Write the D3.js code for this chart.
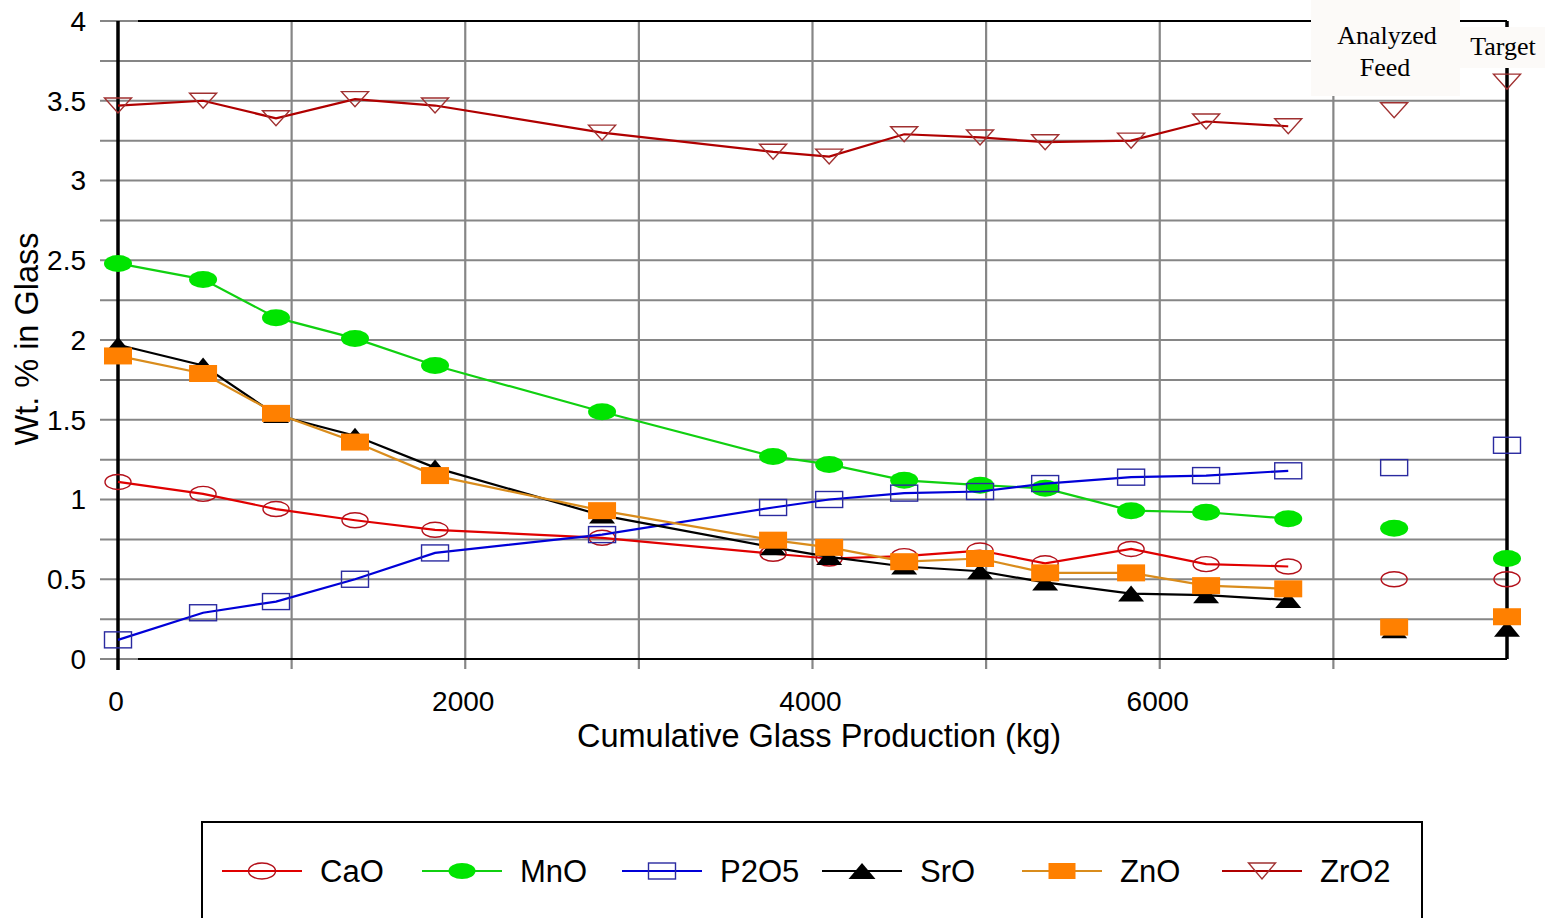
<!DOCTYPE html>
<html>
<head>
<meta charset="utf-8">
<script src="https://cdn.jsdelivr.net/npm/d3@7"></script>
<style>
  html, body { margin: 0; padding: 0; background: #ffffff; }
  svg { display: block; }
  text { font-family: "Liberation Sans", Arial, sans-serif; fill: #000; }
</style>
</head>
<body>
<svg id="chart" width="1545" height="918"></svg>
<script>
// Cumulative glass production (kg) at each glass sample
const production = [0, 490, 910, 1365, 1826, 2788, 3773, 4096, 4528, 4965, 5340, 5835, 6267, 6740];

// Oxide concentrations (wt. % in glass)
const CaO  = [1.11, 1.035, 0.94, 0.87, 0.81, 0.76, 0.66, 0.63, 0.645, 0.68, 0.60, 0.69, 0.595, 0.58];
const MnO  = [2.48, 2.38, 2.14, 2.01, 1.84, 1.55, 1.27, 1.22, 1.12, 1.09, 1.07, 0.93, 0.92, 0.88];
const P2O5 = [0.12, 0.29, 0.36, 0.50, 0.665, 0.78, 0.95, 1.00, 1.04, 1.05, 1.10, 1.14, 1.15, 1.18];
const SrO  = [1.97, 1.84, 1.53, 1.40, 1.20, 0.90, 0.70, 0.64, 0.58, 0.55, 0.48, 0.41, 0.40, 0.37];
const ZnO  = [1.90, 1.79, 1.54, 1.36, 1.15, 0.93, 0.745, 0.70, 0.61, 0.63, 0.54, 0.54, 0.46, 0.44];
const ZrO2 = [3.47, 3.50, 3.39, 3.51, 3.47, 3.30, 3.18, 3.15, 3.29, 3.27, 3.24, 3.25, 3.37, 3.34];

// Analyzed feed and target compositions, order: CaO, MnO, P2O5, SrO, ZnO, ZrO2
const analyzedFeed = [0.50, 0.82, 1.20, 0.18, 0.20, 3.44];
const targetComp   = [0.50, 0.63, 1.34, 0.19, 0.265, 3.62];
const analyzedX = 7350;
const targetX = 8000;

const seriesNames = ["CaO", "MnO", "P2O5", "SrO", "ZnO", "ZrO2"];
const seriesValues = [CaO, MnO, P2O5, SrO, ZnO, ZrO2];

const yTicks = [0, 0.5, 1, 1.5, 2, 2.5, 3, 3.5, 4];
const yGrid = d3.range(0, 4.001, 0.25);
const xTickLabels = [0, 2000, 4000, 6000];
const xGrid = [1000, 2000, 3000, 4000, 5000, 6000, 7000];

// Visual style per series
const styles = {
  CaO:  { line: "#e00000", shape: "ellipse",  fill: "none",    stroke: "#b3101a" },
  MnO:  { line: "#10d010", shape: "ellipse",  fill: "#00e400", stroke: "none" },
  P2O5: { line: "#0000d8", shape: "rect",     fill: "none",    stroke: "#2a2aa0" },
  SrO:  { line: "#000000", shape: "triUp",    fill: "#000000", stroke: "none" },
  ZnO:  { line: "#d98c1c", shape: "rect",     fill: "#ff8000", stroke: "none" },
  ZrO2: { line: "#b00000", shape: "triDown",  fill: "none",    stroke: "#a03030" }
};

const svg = d3.select("#chart");
const x = d3.scaleLinear().domain([0, 8000]).range([118, 1507]);
const y = d3.scaleLinear().domain([0, 4]).range([659, 21]);

// Grid lines (grey), extended slightly outside the plot as tick marks
const grid = svg.append("g");
grid.selectAll("line.h").data(yGrid).join("line")
  .attr("x1", 100).attr("x2", x(8000))
  .attr("y1", d => y(d)).attr("y2", d => y(d))
  .attr("stroke", "#868686").attr("stroke-width", 2);
grid.selectAll("line.v").data(xGrid).join("line")
  .attr("x1", d => x(d)).attr("x2", d => x(d))
  .attr("y1", y(4)).attr("y2", y(0) + 10)
  .attr("stroke", "#868686").attr("stroke-width", 2.2);

// Plot frame
const frame = svg.append("g").attr("stroke", "#000");
frame.append("line").attr("x1", 138).attr("x2", x(8000)).attr("y1", y(4)).attr("y2", y(4)).attr("stroke-width", 2.2);
frame.append("line").attr("x1", 138).attr("x2", x(8000)).attr("y1", y(0)).attr("y2", y(0)).attr("stroke-width", 2.2);
frame.append("line").attr("x1", x(8000)).attr("x2", x(8000)).attr("y1", y(4)).attr("y2", y(0)).attr("stroke-width", 3.5);
frame.append("line").attr("x1", x(0)).attr("x2", x(0)).attr("y1", y(4)).attr("y2", y(0) + 11).attr("stroke-width", 3.5);

// Label panels for the feed / target columns
svg.append("rect").attr("x", 1311).attr("y", 0).attr("width", 149).attr("height", 96).attr("fill", "#fcfaf8");
svg.append("rect").attr("x", 1460).attr("y", 27).attr("width", 85).attr("height", 41).attr("fill", "#fcfaf8");

const serif = "'Liberation Serif', 'Times New Roman', serif";
svg.append("text").attr("x", 1387).attr("y", 44).attr("text-anchor", "middle")
  .style("font-family", serif).style("font-size", "26px").text("Analyzed");
svg.append("text").attr("x", 1385).attr("y", 76).attr("text-anchor", "middle")
  .style("font-family", serif).style("font-size", "26px").text("Feed");
svg.append("text").attr("x", 1503).attr("y", 55).attr("text-anchor", "middle")
  .style("font-family", serif).style("font-size", "26px").text("Target");

// Axis tick labels
svg.append("g").selectAll("text").data(yTicks).join("text")
  .attr("x", 86).attr("y", d => y(d)).attr("dy", "0.35em")
  .attr("text-anchor", "end").style("font-size", "28px")
  .text(d => d3.format("~g")(d));
svg.append("g").selectAll("text").data(xTickLabels).join("text")
  .attr("x", d => x(d) - 2).attr("y", 701).attr("dy", "0.35em")
  .attr("text-anchor", "middle").style("font-size", "28px")
  .text(d => d);

// Axis titles
svg.append("text").attr("x", 819).attr("y", 736).attr("dy", "0.35em")
  .attr("text-anchor", "middle").style("font-size", "32.5px")
  .text("Cumulative Glass Production (kg)");
svg.append("text").attr("transform", "translate(27,339) rotate(-90)")
  .attr("dy", "0.35em").attr("text-anchor", "middle").style("font-size", "32.5px")
  .text("Wt. % in Glass");

// Marker drawing
function drawMarker(sel, shape, st, w, h) {
  let m;
  if (shape === "ellipse") {
    m = sel.append("ellipse").attr("rx", w / 2).attr("ry", h / 2);
  } else if (shape === "rect") {
    m = sel.append("rect").attr("x", -w / 2).attr("y", -h / 2).attr("width", w).attr("height", h);
  } else if (shape === "triUp") {
    m = sel.append("path").attr("d", `M0,${-h / 2}L${w / 2},${h / 2}L${-w / 2},${h / 2}Z`);
  } else {
    m = sel.append("path").attr("d", `M${-w / 2},${-h / 2}L${w / 2},${-h / 2}L0,${h / 2}Z`);
  }
  m.attr("fill", st.fill).attr("stroke", st.stroke).attr("stroke-width", 1.4);
  return m;
}

const markerSize = {
  CaO: [26, 15], MnO: [28, 17], P2O5: [27, 16], SrO: [26, 16], ZnO: [28, 17], ZrO2: [27, 15]
};

const lineGen = d3.line().x(d => x(d[0])).y(d => y(d[1]));
const plot = svg.append("g");

seriesNames.forEach((name, i) => {
  const st = styles[name];
  const pts = production.map((p, j) => [p, seriesValues[i][j]]);
  const g = plot.append("g");
  g.append("path").datum(pts).attr("d", lineGen)
    .attr("fill", "none").attr("stroke", st.line).attr("stroke-width", 2.2);
  const extra = [[analyzedX, analyzedFeed[i]], [targetX, targetComp[i]]];
  pts.concat(extra).forEach(p => {
    const mg = g.append("g").attr("transform", `translate(${x(p[0])},${y(p[1])})`);
    drawMarker(mg, st.shape, st, markerSize[name][0], markerSize[name][1]);
  });
});

// Legend
const legend = svg.append("g");
legend.append("rect").attr("x", 202).attr("y", 822).attr("width", 1220).attr("height", 130)
  .attr("fill", "#fff").attr("stroke", "#000").attr("stroke-width", 2);
seriesNames.forEach((name, i) => {
  const st = styles[name];
  const x0 = 222 + i * 200;
  const ly = 871;
  legend.append("line").attr("x1", x0).attr("x2", x0 + 80).attr("y1", ly).attr("y2", ly)
    .attr("stroke", st.line).attr("stroke-width", 2);
  const mg = legend.append("g").attr("transform", `translate(${x0 + 40},${ly})`);
  drawMarker(mg, st.shape, st, 27, 16);
  legend.append("text").attr("x", x0 + 98).attr("y", ly).attr("dy", "0.35em")
    .style("font-size", "31px").text(name);
});
</script>
</body>
</html>
